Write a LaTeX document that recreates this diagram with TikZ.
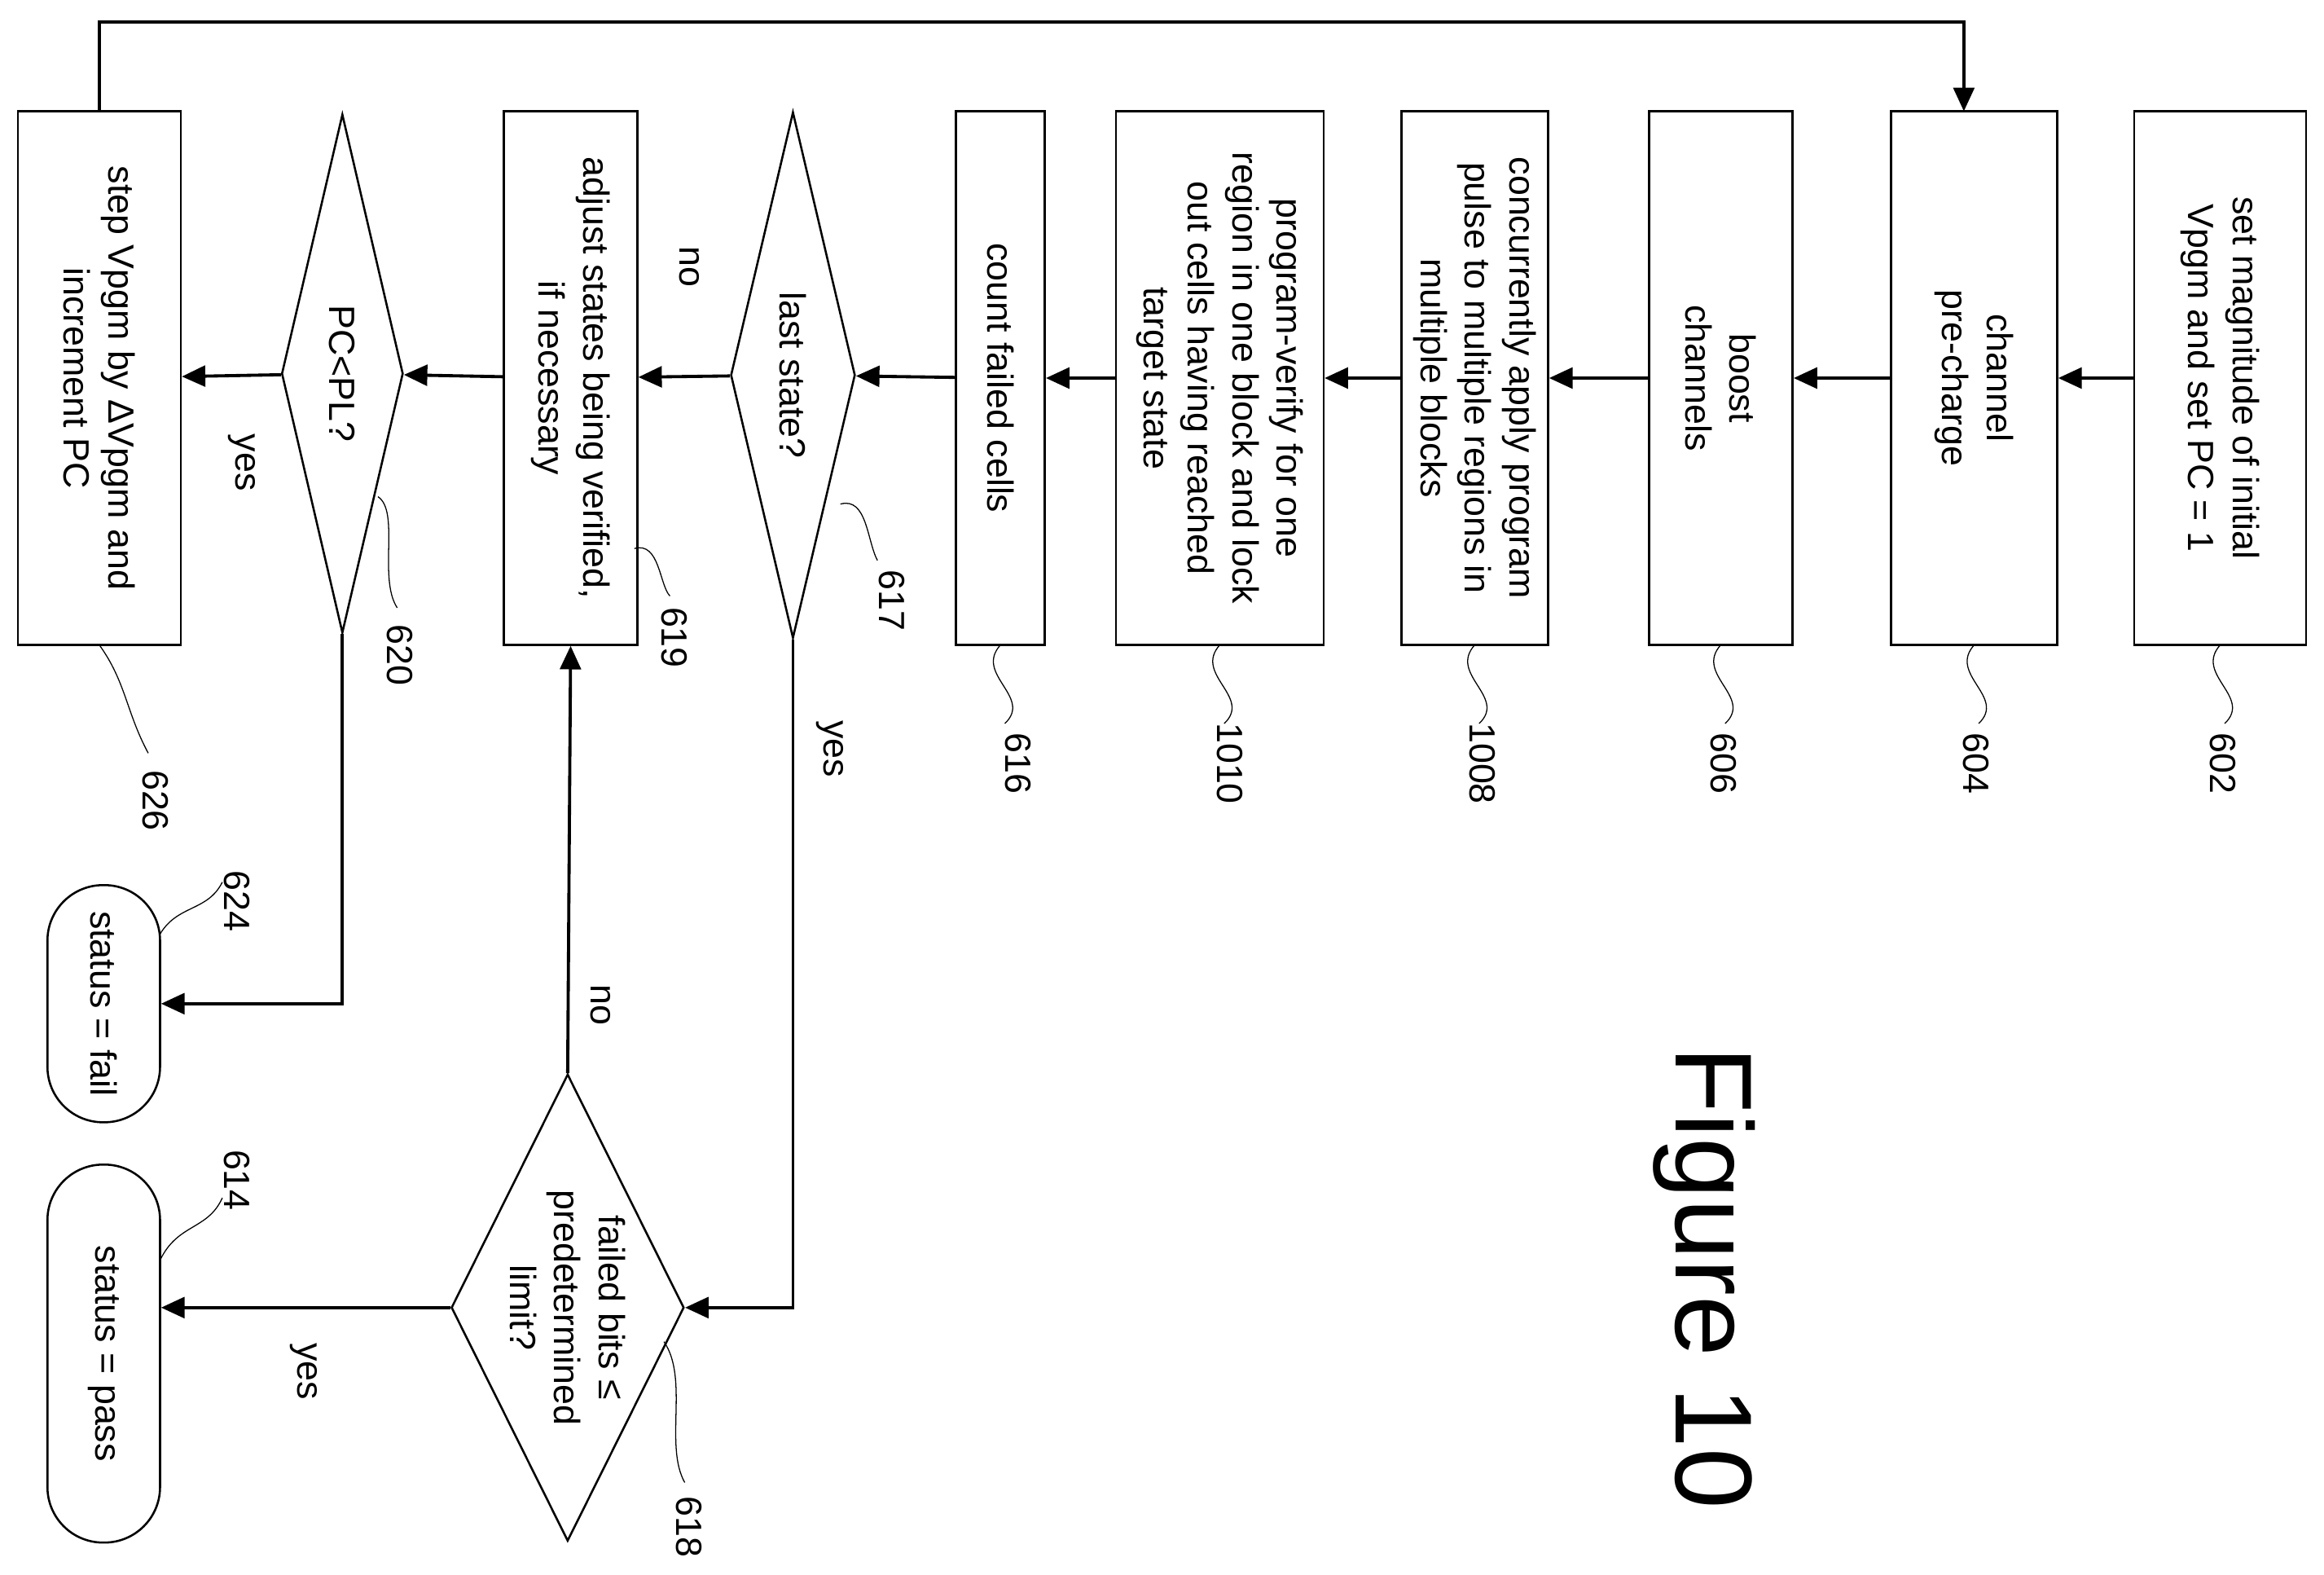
\documentclass[tikz,border=0pt]{standalone}
\usepackage{fontspec}
\setmainfont{Liberation Sans}
\usetikzlibrary{shapes.geometric,arrows.meta}
\begin{document}
\begin{tikzpicture}[x=0.02cm,y=-0.02cm,inner sep=0pt,font=\fontsize{14}{17}\selectfont]
\tikzstyle{proc}=[rectangle, rotate=-90, draw, thick, align=center, minimum width=7.2cm]
\tikzstyle{test}=[diamond, rotate=-90, draw, thick, align=center]
\tikzstyle{stop}=[rectangle, rounded corners=0.75cm, rotate=-90, draw, thick, align=center]
\tikzstyle{connect}=[-{Triangle[length=9pt,width=8pt]}, very thick]
\tikzstyle{lbl}=[rotate=-90]
\tikzstyle{leader}=[thin]
\useasboundingbox (0,0) rectangle (1568,1062);
\node[proc,minimum height=2.32cm] (set) at (1498,255) {set magnitude of initial\\Vpgm and set PC = 1};
\node[proc,minimum height=2.24cm] (pre) at (1332,255) {channel\\pre-charge};
\node[proc,minimum height=1.94cm] (boost) at (1161,255) {boost\\channels};
\node[proc,minimum height=1.98cm] (apply) at (995,255) {concurrently apply program\\pulse to multiple regions in\\multiple blocks};
\node[proc,minimum height=2.8cm] (verify) at (823,255) {program-verify for one\\region in one block and lock\\out cells having reached\\target state};
\node[proc,minimum height=1.2cm] (count) at (675,255) {count failed cells};
\node[test,minimum width=7.1cm,minimum height=1.68cm,shape aspect=4.2] (last) at (535,253) {last state?};
\node[proc,minimum height=1.8cm] (adjust) at (385,255) {adjust states being verified,\\if necessary};
\node[test,minimum width=7.0cm,minimum height=1.64cm,shape aspect=4.3] (pcpl) at (231,252) {PC<PL?};
\node[proc,minimum height=2.2cm] (incr) at (67,255) {step Vpgm by ΔVpgm and\\increment PC};
\node[test,minimum width=6.3cm,minimum height=3.14cm,shape aspect=2] (limit) at (383,882) {failed bits ≤\\predetermined\\limit?};
\node[stop,minimum width=3.2cm,minimum height=1.52cm] (fail) at (70,677) {status = fail};
\node[stop,minimum width=5.1cm,minimum height=1.52cm] (pass) at (70,913) {status = pass};
\node[lbl,font=\fontsize{42}{42}\selectfont] (fig) at (1150,862) {Figure 10};
% flow
\draw[connect] (set) -- (pre);
\draw[connect] (pre) -- (boost);
\draw[connect] (boost) -- (apply);
\draw[connect] (apply) -- (verify);
\draw[connect] (verify) -- (count);
\draw[connect] (count) -- (last);
\draw[connect] (last) -- (adjust);
\draw[connect] (adjust) -- (pcpl);
\draw[connect] (pcpl) -- (incr);
\draw[connect] (incr.west) -- (67,15) -| (1325,75);
\draw[connect] (last.east) |- (limit.north);
\draw[connect] (limit.south) -- (pass.north |- limit.south);
\draw[connect] (limit.west) -- (adjust.east);
\draw[connect] (pcpl.east) |- (fail.north);
\node[lbl] (no1) at (465,180) {no};
\node[lbl] (yes1) at (560,505) {yes};
\node[lbl] (yes2) at (205,925) {yes};
\node[lbl] (no2) at (405,678) {no};
\node[lbl] (yes3) at (163,312) {yes};
% reference numerals
\foreach \x/\n in {1500/602,1333/604,1163/606,1000/1008,830/1010,687/616}
  \node[lbl] at (\x,515) {\n};
\node[lbl] at (602,405) {617};
\node[lbl] at (455,430) {619};
\node[lbl] at (270,442) {620};
\node[lbl] at (105,540) {626};
\node[lbl] at (160,608) {624};
\node[lbl] at (160,796) {614};
\node[lbl] at (465,1030) {618};
\foreach \x in {1498,1332,1161,995,823,675}
  \draw[leader] (\x,435) .. controls (\x-18,455) and (\x+22,470) .. (\x+3,488);
\draw[leader] (567,340) .. controls (585,335) and (585,365) .. (592,378);
\draw[leader] (428,370) .. controls (445,365) and (445,395) .. (452,402);
\draw[leader] (255,335) .. controls (270,345) and (255,390) .. (268,410);
\draw[leader] (67,435) .. controls (85,460) and (85,480) .. (100,508);
\draw[leader] (108,630) .. controls (120,610) and (140,615) .. (150,595);
\draw[leader] (108,850) .. controls (120,825) and (140,830) .. (150,808);
\draw[leader] (448,905) .. controls (465,930) and (448,975) .. (462,1000);
\end{tikzpicture}
\end{document}
